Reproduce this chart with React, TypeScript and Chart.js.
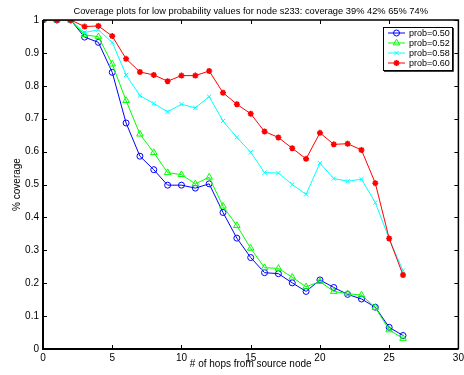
import React, { useEffect, useRef } from "react";
import { Chart, registerables } from "chart.js";
import { drawPoint } from "chart.js/helpers";

Chart.register(...registerables);

const hops = [0,1,2,3,4,5,6,7,8,9,10,11,12,13,14,15,16,17,18,19,20,21,22,23,24,25,26];
const prob050 = [1,1,1,0.948,0.932,0.841,0.687,0.586,0.545,0.498,0.498,0.489,0.502,0.415,0.337,0.278,0.232,0.229,0.201,0.175,0.21,0.187,0.166,0.152,0.127,0.066,0.041];
const prob052 = [1,1,1,0.955,0.949,0.866,0.755,0.653,0.597,0.536,0.53,0.502,0.522,0.434,0.375,0.306,0.247,0.245,0.218,0.189,0.205,0.175,0.168,0.164,0.126,0.058,0.032];
const prob058 = [1,1,1,0.962,0.97,0.932,0.833,0.77,0.746,0.721,0.744,0.733,0.767,0.693,0.643,0.598,0.536,0.535,0.5,0.47,0.565,0.518,0.51,0.516,0.445,0.335,0.238];
const prob060 = [1,1,1,0.98,0.982,0.951,0.882,0.842,0.833,0.814,0.831,0.831,0.845,0.779,0.744,0.715,0.661,0.643,0.61,0.578,0.657,0.622,0.624,0.605,0.504,0.336,0.225];
const seriesLabels = ["prob=0.50", "prob=0.52", "prob=0.58", "prob=0.60"];
const xTicks = [0, 5, 10, 15, 20, 25, 30];
const yTicks = [0, 0.1, 0.2, 0.3, 0.4, 0.5, 0.6, 0.7, 0.8, 0.9, 1];
const titleText = "Coverage plots for low probability values for node s233: coverage 39% 42% 65% 74%";
const xTitle = "# of hops from source node";
const yTitle = "% coverage";

const FONT = "'Liberation Sans', Arial, Helvetica, sans-serif";

const styles = [
  { color: "#0000ff", pointStyle: "circle", radius: 3, fill: "rgba(0,0,0,0)", bw: 1 },
  { color: "#00ff00", pointStyle: "triangle", radius: 3.8, fill: "rgba(0,0,0,0)", bw: 1 },
  { color: "#00ffff", pointStyle: "crossRot", radius: 3, fill: "rgba(0,0,0,0)", bw: 1 },
  { color: "#ff0000", pointStyle: "star", radius: 3, fill: "#ff0000", bw: 1.6 },
];

const boxPlugin = {
  id: "matlabBox",
  afterDatasetsDraw(chart: any) {
    const { ctx, chartArea } = chart;
    const { left, right, top, bottom } = chartArea;
    const xs = chart.scales.x;
    const ys = chart.scales.y;
    ctx.save();
    // title centred over the axes box
    ctx.fillStyle = "#000";
    ctx.font = "9.3px " + FONT;
    ctx.textAlign = "center";
    ctx.textBaseline = "middle";
    ctx.fillText(titleText, (left + right) / 2, 11);

    ctx.strokeStyle = "#000";
    ctx.lineWidth = 1;
    const tl = 4;
    ctx.beginPath();
    xTicks.forEach((v) => {
      const px = Math.round(xs.getPixelForValue(v)) + 0.5;
      ctx.moveTo(px, bottom);
      ctx.lineTo(px, bottom - tl);
      ctx.moveTo(px, top);
      ctx.lineTo(px, top + tl);
    });
    yTicks.forEach((v) => {
      const py = Math.round(ys.getPixelForValue(v)) + 0.5;
      ctx.moveTo(left, py);
      ctx.lineTo(left + tl, py);
      ctx.moveTo(right, py);
      ctx.lineTo(right - tl, py);
    });
    ctx.stroke();
    ctx.lineWidth = 1.5;
    ctx.beginPath();
    ctx.moveTo(left, top);
    ctx.lineTo(right, top);
    ctx.lineTo(right, bottom);
    ctx.stroke();
    ctx.lineWidth = 2;
    ctx.beginPath();
    ctx.moveTo(left, top);
    ctx.lineTo(left, bottom);
    ctx.lineTo(right, bottom);
    ctx.stroke();

    // legend
    const bx = 383, by = 27, bw = 69, bh = 43;
    ctx.fillStyle = "#fff";
    ctx.fillRect(bx, by, bw, bh);
    ctx.lineWidth = 1;
    ctx.strokeStyle = "#000";
    ctx.strokeRect(bx + 0.5, by + 0.5, bw, bh);
    ctx.lineWidth = 1.5;
    ctx.beginPath();
    ctx.moveTo(bx + bw + 1, by + 1);
    ctx.lineTo(bx + bw + 1, by + bh + 1);
    ctx.lineTo(bx + 1, by + bh + 1);
    ctx.stroke();
    ctx.font = "9px " + FONT;
    ctx.textBaseline = "middle";
    ctx.textAlign = "left";
    seriesLabels.forEach((lab, i) => {
      const s = styles[i];
      const yy = by + 6 + i * 10;
      ctx.strokeStyle = s.color;
      ctx.lineWidth = 1;
      ctx.beginPath();
      ctx.moveTo(bx + 5, yy);
      ctx.lineTo(bx + 22, yy);
      ctx.stroke();
      ctx.fillStyle = s.fill;
      ctx.lineWidth = s.bw;
      drawPoint(ctx, { pointStyle: s.pointStyle, radius: s.radius, rotation: 0, borderWidth: s.bw } as any, bx + 13.5, yy);
      ctx.fillStyle = "#000";
      ctx.fillText(lab, bx + 26, yy + 0.5);
    });
    ctx.restore();
  },
};

export default function App() {
  const ref = useRef<HTMLCanvasElement>(null);
  useEffect(() => {
    document.body.style.margin = "0";
    const data = [prob050, prob052, prob058, prob060];
    const chart = new Chart(ref.current!, {
      type: "line",
      data: {
        labels: hops,
        datasets: data.map((d, i) => ({
          label: seriesLabels[i],
          data: hops.map((h, j) => ({ x: h, y: d[j] })),
          borderColor: styles[i].color,
          backgroundColor: styles[i].fill,
          pointBorderColor: styles[i].color,
          pointBackgroundColor: styles[i].fill,
          pointStyle: styles[i].pointStyle as any,
          pointRadius: styles[i].radius,
          pointBorderWidth: styles[i].bw,
          borderWidth: 1,
          tension: 0,
          fill: false,
          order: 4 - i,
        })),
      },
      options: {
        responsive: false,
        animation: false,
        devicePixelRatio: 1,
        layout: { padding: { left: 0, right: 4, top: 20, bottom: 0 } },
        plugins: {
          legend: { display: false },
          tooltip: { enabled: false },
          title: { display: false },
        },
        scales: {
          x: {
            type: "linear",
            min: 0,
            max: 30,
            afterFit: (s: any) => { s.height = 26; s.paddingLeft = 0; s.paddingRight = 0; },
            afterBuildTicks: (s: any) => { s.ticks = xTicks.map((v) => ({ value: v })); },
            grid: { display: false, drawTicks: false },
            border: { display: false },
            ticks: { color: "#000", padding: 3, maxRotation: 0, autoSkip: false, font: { family: FONT, size: 10 } },
            title: { display: true, text: xTitle, color: "#000", font: { family: FONT, size: 10 }, padding: { top: 0, bottom: 5 } },
          },
          y: {
            type: "linear",
            min: 0,
            max: 1,
            afterFit: (s: any) => { s.width = 43; s.paddingTop = 0; s.paddingBottom = 0; },
            afterBuildTicks: (s: any) => { s.ticks = yTicks.map((v) => ({ value: v })); },
            grid: { display: false, drawTicks: false },
            border: { display: false },
            ticks: { color: "#000", padding: 4, autoSkip: false, font: { family: FONT, size: 10 }, callback: (v: any) => String(Math.round(Number(v) * 10) / 10) },
            title: { display: true, text: yTitle, color: "#000", font: { family: FONT, size: 10 }, padding: { top: 11, bottom: 0 } },
          },
        },
      },
      plugins: [boxPlugin],
    });
    return () => chart.destroy();
  }, []);
  return (
    <div style={{ position: "fixed", left: 0, top: 0, width: 464, height: 375, background: "#fff" }}>
      <canvas ref={ref} width={464} height={375} />
    </div>
  );
}
